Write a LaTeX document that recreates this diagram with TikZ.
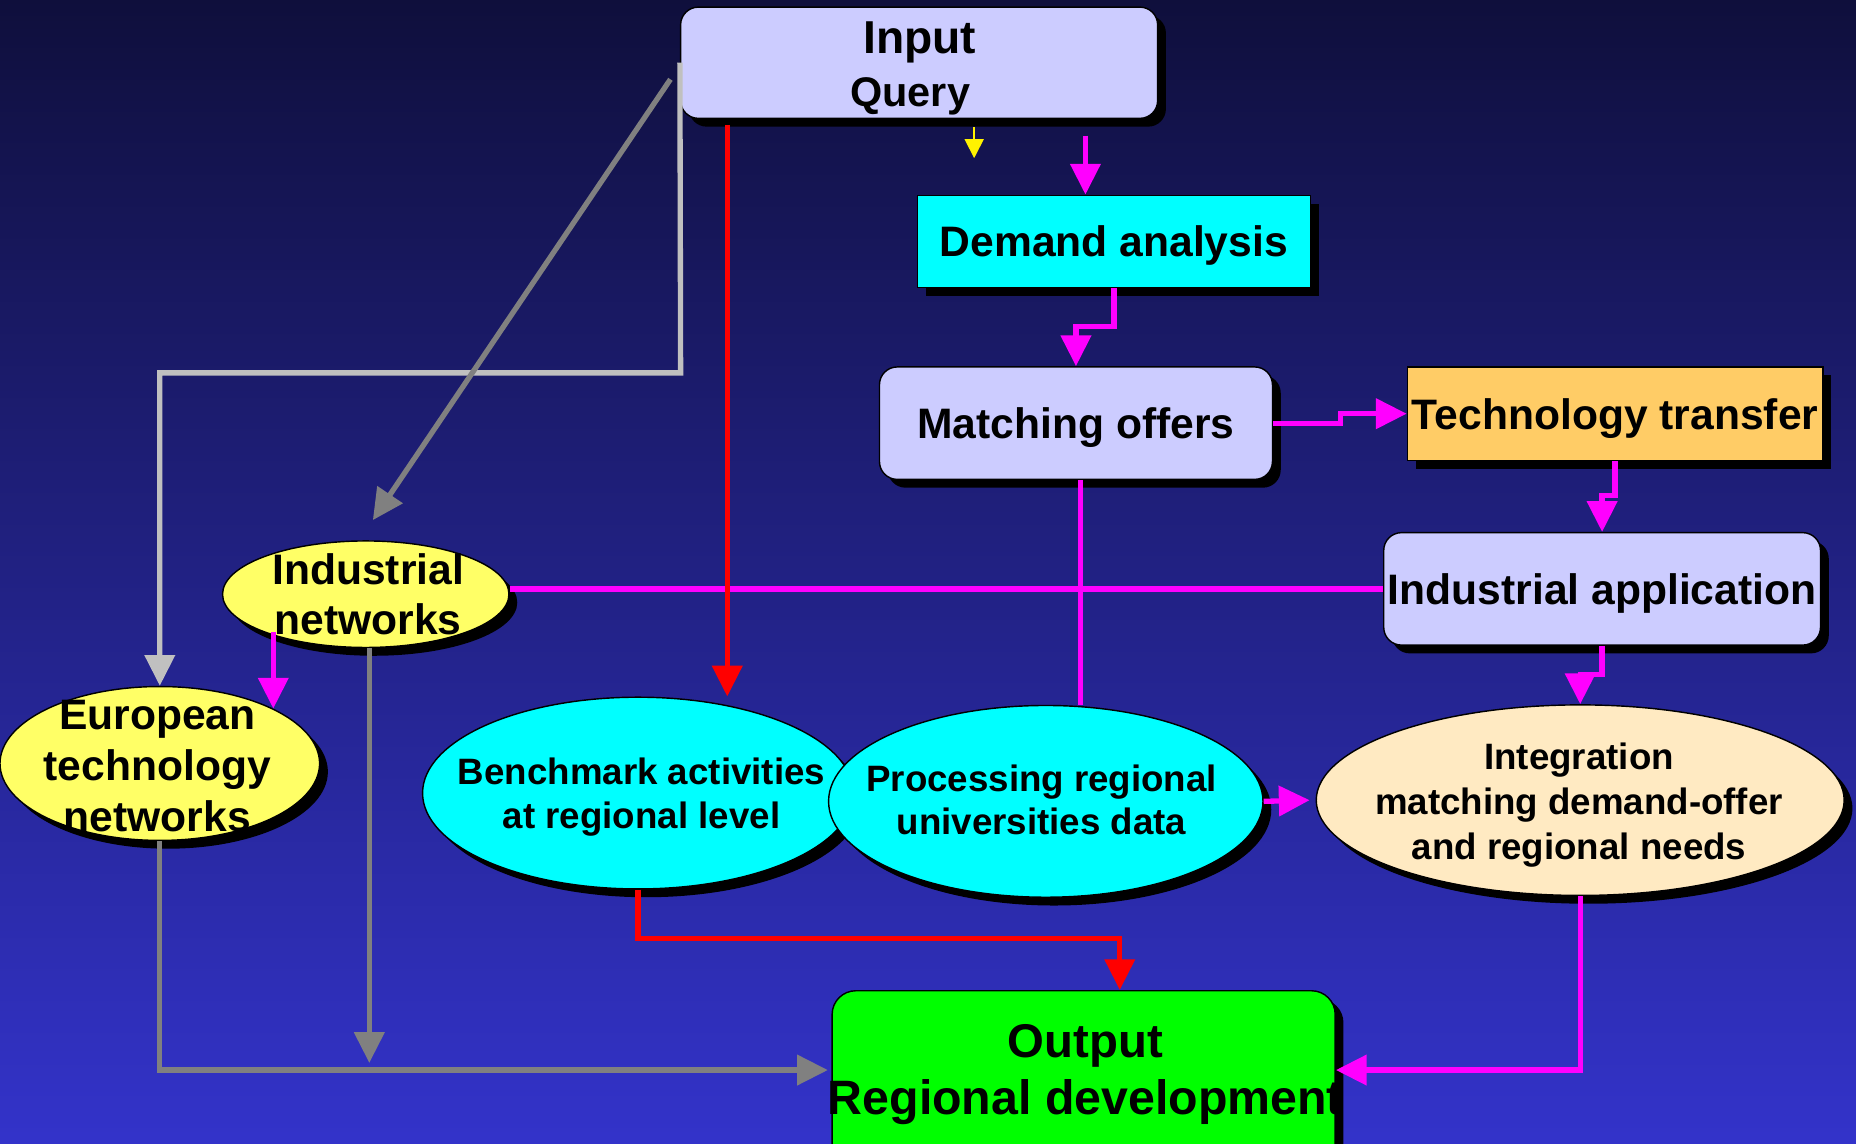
\documentclass[tikz,border=0pt]{standalone}
\usepackage{fontspec}
\setmainfont{Liberation Sans}
\usetikzlibrary{positioning, shapes.geometric, shadows, arrows.meta}
\definecolor{bgtop}{RGB}{15,15,60}
\definecolor{bgbot}{RGB}{51,51,202}
\definecolor{lav}{RGB}{204,204,255}
\definecolor{cya}{RGB}{0,255,255}
\definecolor{ora}{RGB}{255,204,102}
\definecolor{yel}{RGB}{255,255,102}
\definecolor{pea}{RGB}{255,234,194}
\definecolor{grn}{RGB}{0,255,0}
\definecolor{mag}{RGB}{255,0,255}
\definecolor{lgr}{RGB}{192,192,192}
\definecolor{dgr}{RGB}{128,128,128}
\tikzset{
  dshadow/.style={drop shadow={shadow xshift=7pt, shadow yshift=-7pt, fill=black, opacity=1}},
  box/.style={
    draw=black, line width=1.2pt, inner sep=0pt, dshadow,
    % node text
    font=\bfseries\fontsize{36}{43}\selectfont, text depth=0pt
  },
  rbox/.style={box, rounded corners=15pt},
  oval/.style={box, ellipse},
  txt/.style={inner sep=0pt, align=center, font=\bfseries\fontsize{36}{43}\selectfont},
  stxt/.style={txt, font=\bfseries\fontsize{31}{37}\selectfont},
  arr/.style={-{Triangle[width=25pt,length=26pt]}},
  link/.style={line width=4.5pt},
  magline/.style={link, draw=mag, arr},
  magplain/.style={link, draw=mag},
  redline/.style={link, draw=red, arr},
  lgrline/.style={link, draw=lgr, arr},
  dgrline/.style={link, draw=dgr, arr},
  yelline/.style={line width=1.5pt, draw=yellow, -{Triangle[width=16pt,length=16pt]}}
}
\begin{document}
\begin{tikzpicture}[x=1pt, y=-1pt]
  \useasboundingbox (0,0) rectangle (1568,966);
  \fill[top color=bgtop, bottom color=bgbot] (0,0) rectangle (1568,966);
  % ovals
  \node[oval, fill=yel, minimum width=270pt, minimum height=130pt] (eur) at (135,645) {};
  \node[oval, fill=yel, minimum width=242pt, minimum height=90pt] (ind) at (309,502) {};
  \node[oval, fill=cya, minimum width=364pt, minimum height=162pt] (ben) at (539,670) {};
  \node[oval, fill=cya, minimum width=367pt, minimum height=162pt] (pro) at (883.5,677) {};
  \node[oval, fill=pea, minimum width=446pt, minimum height=161pt] (intg) at (1335,676) {};
  \node[txt] (eurtxt) at (133,647) {European\\technology\\networks};
  \node[txt, font=\bfseries\fontsize{36}{42}\selectfont] (indtxt) at (311,502) {Industrial\\networks};
  \node[stxt] (bentxt) at (542,673.5) {Benchmark activities\\at regional level};
  \node[stxt, font=\bfseries\fontsize{31}{36.5}\selectfont] (protxt) at (880,676) {Processing regional\\universities data};
  \node[stxt, font=\bfseries\fontsize{31}{38}\selectfont] (intgtxt) at (1334,680) {Integration\\matching demand-offer\\and regional needs};
  % boxes
  \node[rbox, fill=lav, minimum width=403pt, minimum height=94pt] (inp) at (776.5,53) {};
  \node[txt, font=\bfseries\fontsize{39}{44.5}\selectfont] (inptxt) at (777,58) {Input\\{\fontsize{35}{44.5}\selectfont Query\hspace*{16pt}}};
  \node[box, fill=cya, minimum width=332pt, minimum height=78pt] (dem) at (941,204) {Demand analysis};
  \node[rbox, fill=lav, minimum width=332pt, minimum height=95pt] (mat) at (909,357.5) {Matching offers};
  \node[box, fill=ora, minimum width=351pt, minimum height=79pt] (tec) at (1364.5,349.5) {Technology transfer};
  \node[rbox, fill=lav, minimum width=369pt, minimum height=95pt] (app) at (1353.5,497.5) {Industrial application};
  \node[rbox, rounded corners=20pt, fill=grn, minimum width=425pt, minimum height=153pt] (out) at (915.5,913.5) {};
  \node[txt, font=\bfseries\fontsize{40}{48}\selectfont] (outtxt) at (917,908) {Output\\{\fontsize{40.8}{48}\selectfont Regional development}};
  % grey feeds
  \coordinate (lgbend) at (575,315);
  \draw[lgrline] (inp.west) -- (lgbend) -| (eur.north);
  \draw[dgrline] ([xshift=-8pt,yshift=-14pt]inp.west) -- ([xshift=6pt,yshift=17pt]ind.north);
  \draw[dgrline] (eur.south) |- ([xshift=-3pt,yshift=9.5pt]out.west);
  \coordinate (indend) at (312,898);
  \draw[dgrline] ([xshift=3pt]ind.south) -- (indend);
  % magenta flow
  \draw[yelline] ([xshift=46.5pt,yshift=-7pt]inp.south) -- ++(0,26);
  \draw[magline] ([xshift=140.5pt,yshift=-14pt]inp.south) -- ([xshift=-24pt]dem.north);
  \draw[magline] (dem.south) -- ++(0,32) -| (mat.north);
  \draw[magline] (mat.east) -- ++(57,0) |- (tec.west);
  \draw[magline] (tec.south) -- ++(0,29) -| (app.north);
  \draw[magline] (app.south) -- ++(0,24) -| (intg.north);
  \draw[magplain] (app.west) -- (app.west -| ind.east);
  \coordinate (matdrop) at ([xshift=4pt]mat.south);
  \draw[magplain] (matdrop) -- (matdrop |- pro.north);
  \draw[magline] (ind.south west -| eur.north east) -- (eur.north east);
  \draw[magline] (pro.east) -- ([xshift=-5pt]intg.west);
  \draw[magline] (intg.south) |- ([yshift=9.5pt]out.east);
  % red flow
  \coordinate (redtop) at ([xshift=40pt,yshift=-5pt]inp.south west);
  \draw[redline] (redtop) -- (redtop |- ben.north);
  \draw[redline] (ben.south) -- ++(0,41) -| ([xshift=30.5pt]out.north);
\end{tikzpicture}
\end{document}
